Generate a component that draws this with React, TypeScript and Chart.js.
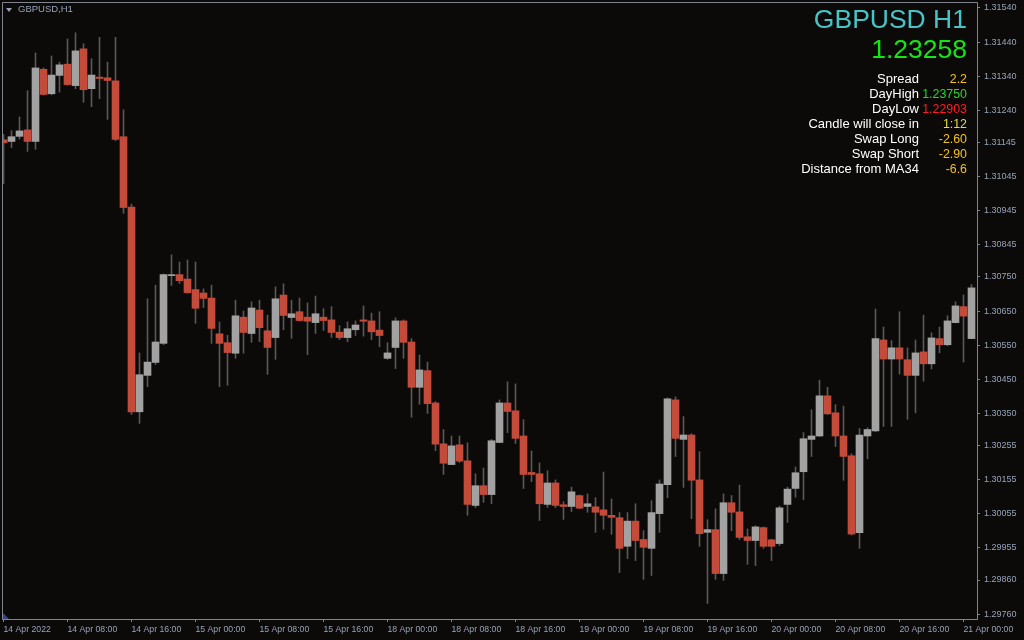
import React, { useEffect, useRef } from "react";
import { Chart, registerables } from "chart.js";

Chart.register(...registerables);

// ---------- data ----------
const timeLabels = [
  "14 Apr 2022", "14 Apr 08:00", "14 Apr 16:00", "15 Apr 00:00", "15 Apr 08:00", "15 Apr 16:00",
  "18 Apr 00:00", "18 Apr 08:00", "18 Apr 16:00", "19 Apr 00:00", "19 Apr 08:00", "19 Apr 16:00",
  "20 Apr 00:00", "20 Apr 08:00", "20 Apr 16:00", "21 Apr 00:00",
];
const timeTickBars = [0, 8, 16, 24, 32, 40, 48, 56, 64, 72, 80, 88, 96, 104, 112, 120];

const priceTicks = [
  1.3154, 1.3144, 1.3134, 1.3124, 1.31145, 1.31045, 1.30945, 1.30845, 1.3075, 1.3065,
  1.3055, 1.3045, 1.3035, 1.30255, 1.30155, 1.30055, 1.29955, 1.2986, 1.2976,
];

const opens = [
  1.31153, 1.31148, 1.31163, 1.31182, 1.31148, 1.3136, 1.31288, 1.31342, 1.31375, 1.31312,
  1.3142, 1.31303, 1.31337, 1.31335, 1.31326, 1.31162, 1.30955, 1.30354, 1.30461, 1.30499,
  1.30555, 1.30754, 1.30757, 1.30744, 1.30713, 1.30703, 1.30688, 1.30583, 1.30557, 1.30526,
  1.30632, 1.30584, 1.30653, 1.30592, 1.30572, 1.30697, 1.30631, 1.30648, 1.30632, 1.30616,
  1.30632, 1.30624, 1.30588, 1.30572, 1.30595, 1.30624, 1.30621, 1.30594, 1.30511, 1.30543,
  1.30621, 1.30559, 1.30426, 1.30475, 1.3038, 1.3026, 1.30199, 1.30257, 1.3021, 1.30079,
  1.30137, 1.30111, 1.30264, 1.3038, 1.30357, 1.30283, 1.30176, 1.30172, 1.30082, 1.30145,
  1.30081, 1.30076, 1.30108, 1.30076, 1.30075, 1.30066, 1.3005, 1.30043, 1.29959, 1.30033,
  1.29979, 1.29953, 1.30055, 1.3014, 1.30389, 1.30273, 1.30286, 1.30154, 1.3, 1.30008,
  1.29879, 1.30087, 1.3006, 1.29987, 1.29976, 1.30014, 1.29978, 1.29967, 1.30082, 1.30129,
  1.30178, 1.30273, 1.30283, 1.30401, 1.30351, 1.30283, 1.30225, 1.29999, 1.30283, 1.30298,
  1.30565, 1.30509, 1.30542, 1.30507, 1.30461, 1.3053, 1.30495, 1.30569, 1.30551, 1.30616,
  1.30663, 1.30569,
];
const highs = [
  1.31169, 1.3118, 1.3122, 1.31297, 1.31408, 1.31364, 1.31399, 1.31381, 1.31449, 1.31467,
  1.31435, 1.31391, 1.31454, 1.31381, 1.31454, 1.31241, 1.30964, 1.30527, 1.30686, 1.30726,
  1.30759, 1.30815, 1.30794, 1.308, 1.30794, 1.30715, 1.30726, 1.30618, 1.30579, 1.30682,
  1.3065, 1.30677, 1.30682, 1.30638, 1.30721, 1.3073, 1.30682, 1.30688, 1.30674, 1.30694,
  1.30657, 1.30663, 1.30607, 1.30618, 1.30621, 1.30665, 1.30644, 1.30648, 1.30557, 1.3063,
  1.30624, 1.30569, 1.30521, 1.305, 1.30384, 1.30302, 1.30283, 1.30283, 1.30263, 1.30172,
  1.30189, 1.30273, 1.30389, 1.30442, 1.30436, 1.30331, 1.30239, 1.30204, 1.30181, 1.30154,
  1.3009, 1.30133, 1.3011, 1.30113, 1.30102, 1.30177, 1.30098, 1.30058, 1.30058, 1.30084,
  1.30005, 1.30093, 1.30154, 1.30395, 1.30398, 1.3034, 1.3029, 1.30237, 1.30037, 1.30069,
  1.30113, 1.30108, 1.30139, 1.3001, 1.30019, 1.30016, 1.2998, 1.30077, 1.30133, 1.30192,
  1.30293, 1.3036, 1.30447, 1.30426, 1.30375, 1.30371, 1.30231, 1.30305, 1.30307, 1.30656,
  1.30603, 1.30563, 1.30648, 1.30542, 1.30565, 1.30638, 1.30586, 1.30603, 1.30636, 1.30677,
  1.30697, 1.30728,
];
const lows = [
  1.31024, 1.3113, 1.31155, 1.31119, 1.31125, 1.31284, 1.31285, 1.31293, 1.31313, 1.31303,
  1.31263, 1.3125, 1.31274, 1.31213, 1.3115, 1.30937, 1.30346, 1.3032, 1.30428, 1.30493,
  1.30551, 1.30725, 1.30731, 1.30702, 1.30614, 1.3066, 1.30555, 1.30428, 1.30432, 1.30511,
  1.30526, 1.30558, 1.3056, 1.30464, 1.30508, 1.30595, 1.3057, 1.3062, 1.30522, 1.30584,
  1.30593, 1.30572, 1.30566, 1.3056, 1.30578, 1.30576, 1.30566, 1.30545, 1.30508, 1.30481,
  1.30511, 1.30338, 1.30376, 1.30349, 1.3024, 1.3017, 1.30199, 1.30205, 1.3005, 1.30073,
  1.30088, 1.30084, 1.30263, 1.30293, 1.30261, 1.30129, 1.30149, 1.30035, 1.30073, 1.30073,
  1.30038, 1.30061, 1.30069, 1.30059, 1.3, 1.30009, 1.29994, 1.29882, 1.29923, 1.29917,
  1.29862, 1.29873, 1.3, 1.30102, 1.30223, 1.30132, 1.3004, 1.29959, 1.29791, 1.29862,
  1.29859, 1.30005, 1.29979, 1.29906, 1.29902, 1.29953, 1.29917, 1.29961, 1.30029, 1.30103,
  1.30096, 1.30223, 1.30281, 1.30346, 1.30252, 1.30153, 1.29992, 1.29953, 1.30216, 1.30296,
  1.30311, 1.30311, 1.30465, 1.30332, 1.30351, 1.30444, 1.3048, 1.30527, 1.30548, 1.30615,
  1.305, 1.30569,
];
const closes = [
  1.31144, 1.31162, 1.31179, 1.31148, 1.31364, 1.31286, 1.31343, 1.31373, 1.31315, 1.31414,
  1.313, 1.31343, 1.31333, 1.31327, 1.31154, 1.30954, 1.30354, 1.30463, 1.305, 1.30559,
  1.30757, 1.30757, 1.30739, 1.30704, 1.30658, 1.30687, 1.30599, 1.30555, 1.30528, 1.30636,
  1.30587, 1.30659, 1.30601, 1.30543, 1.30686, 1.30637, 1.30642, 1.30622, 1.3062, 1.30642,
  1.30622, 1.30587, 1.30572, 1.30598, 1.30609, 1.3062, 1.30589, 1.30578, 1.30527, 1.30621,
  1.30558, 1.30426, 1.30477, 1.30378, 1.30259, 1.30203, 1.30254, 1.30209, 1.30082, 1.30137,
  1.30111, 1.30269, 1.3038, 1.30355, 1.30276, 1.3017, 1.3017, 1.30084, 1.30145, 1.30079,
  1.30076, 1.30119, 1.30071, 1.30084, 1.30059, 1.3005, 1.30044, 1.29953, 1.30033, 1.29976,
  1.29956, 1.30058, 1.30142, 1.30392, 1.30276, 1.30286, 1.30153, 1.29996, 1.30008, 1.29879,
  1.30087, 1.30059, 1.29985, 1.29976, 1.30016, 1.29959, 1.29959, 1.30072, 1.30127, 1.30175,
  1.30275, 1.30283, 1.30401, 1.30348, 1.30283, 1.30223, 1.29995, 1.30286, 1.30302, 1.30569,
  1.30509, 1.30542, 1.30509, 1.30461, 1.30527, 1.30495, 1.30571, 1.30551, 1.30621, 1.30665,
  1.30635, 1.30718,
];

const infoLabels = ["Spread", "DayHigh", "DayLow", "Candle will close in", "Swap Long", "Swap Short", "Distance from MA34"];
const infoValues = ["2.2", "1.23750", "1.22903", "1:12", "-2.60", "-2.90", "-6.6"];

// ---------- styles ----------
const BG = "#0c0a08";
const FRAME = "#80868f";
const LABEL = "#96a4ba";
const BULL = "#a2a2a2";
const BEAR = "#c44a3a";
const WICK = "#585858";
const FONT = '"Liberation Sans", Arial, sans-serif';
const infoColors = ["#f2c21a", "#2ad62a", "#ff1f1f", "#e2df3a", "#f2c21a", "#f2c21a", "#f2c21a"];

type TxtProps = { right?: number; left?: number; baseline: number; size: number; color: string; text: string };
function Txt({ right, left, baseline, size, color, text }: TxtProps) {
  const style: React.CSSProperties = {
    position: "absolute",
    top: baseline - 0.8465 * size,
    fontSize: size,
    lineHeight: size + "px",
    color,
    fontFamily: FONT,
    whiteSpace: "nowrap",
  };
  if (right !== undefined) style.right = 1024 - right;
  if (left !== undefined) style.left = left;
  return <div style={style}>{text}</div>;
}

export default function App() {
  const ref = useRef<HTMLCanvasElement>(null);

  useEffect(() => {
    document.body.style.margin = "0";
    document.body.style.background = BG;
    const canvas = ref.current;
    if (!canvas) return;

    const bodies = opens.map((o, i) => ({ x: i, y: [o, closes[i]] }));
    const wicks = lows.map((l, i) => ({ x: i, y: [l, highs[i]] }));
    const bodyColors = opens.map((o, i) => (closes[i] >= o ? BULL : BEAR));

    const framePlugin = {
      id: "mtFrame",
      beforeDraw(chart: any) {
        const c = chart.ctx;
        c.save();
        c.fillStyle = BG;
        c.fillRect(0, 0, chart.width, chart.height);
        c.restore();
      },
      afterDraw(chart: any) {
        const { left, right, top, bottom } = chart.chartArea;
        const c = chart.ctx;
        c.save();
        c.strokeStyle = FRAME;
        c.lineWidth = 1;
        c.beginPath();
        c.moveTo(left + 0.5, top + 0.5);
        c.lineTo(right + 0.5, top + 0.5);
        c.lineTo(right + 0.5, bottom + 0.5);
        c.lineTo(left + 0.5, bottom + 0.5);
        c.closePath();
        c.stroke();
        c.restore();
      },
    };

    const chart = new Chart(canvas, {
      type: "bar",
      data: {
        datasets: [
          {
            label: "body",
            data: bodies as any,
            backgroundColor: bodyColors,
            barThickness: 7,
            minBarLength: 1,
            grouped: false,
            borderWidth: 0,
            order: 0,
          } as any,
          {
            label: "wick",
            data: wicks as any,
            backgroundColor: WICK,
            barThickness: 1,
            grouped: false,
            borderWidth: 0,
            order: 1,
          } as any,
        ],
      },
      options: {
        animation: false,
        responsive: false,
        maintainAspectRatio: false,
        layout: { padding: { left: 2, top: 2, right: 0, bottom: 0 } },
        plugins: { legend: { display: false }, tooltip: { enabled: false } },
        scales: {
          x: {
            type: "linear",
            position: "bottom",
            min: -0.1875,
            max: 121.6875,
            bounds: "data",
            offset: false,
            afterBuildTicks: (s: any) => {
              s.ticks = timeTickBars.map((v) => ({ value: v }));
            },
            afterFit: (s: any) => {
              s.height = 21;
              s.paddingLeft = 0;
              s.paddingRight = 0;
            },
            ticks: {
              autoSkip: false,
              maxRotation: 0,
              minRotation: 0,
              align: "start",
              padding: 2,
              color: LABEL,
              font: { family: FONT, size: 8.7 },
              callback: (_v: any, i: number) => timeLabels[i],
            },
            grid: { drawOnChartArea: false, drawTicks: true, tickLength: 3, color: FRAME, offset: false },
            border: { display: false },
          } as any,
          y: {
            type: "linear",
            position: "right",
            min: 1.297455,
            max: 1.315576,
            bounds: "data",
            beginAtZero: false,
            afterBuildTicks: (s: any) => {
              s.ticks = priceTicks.map((v) => ({ value: v }));
            },
            afterFit: (s: any) => {
              s.width = 47;
              s.paddingTop = 0;
              s.paddingBottom = 0;
            },
            ticks: {
              autoSkip: false,
              padding: 4,
              color: LABEL,
              font: { family: FONT, size: 9 },
              callback: (v: any) => Number(v).toFixed(5),
            },
            grid: { drawOnChartArea: false, drawTicks: true, tickLength: 3, color: FRAME },
            border: { display: false },
          } as any,
        },
      },
      plugins: [framePlugin as any],
    });
    return () => chart.destroy();
  }, []);

  return (
    <div style={{ position: "relative", width: 1024, height: 640, background: BG, overflow: "hidden" }}>
      <canvas ref={ref} width={1024} height={640} style={{ display: "block", width: 1024, height: 640 }} />
      {/* symbol caption top-left */}
      <div
        style={{
          position: "absolute",
          left: 6,
          top: 8,
          width: 0,
          height: 0,
          borderLeft: "3px solid transparent",
          borderRight: "3px solid transparent",
          borderTop: "4px solid " + LABEL,
        }}
      />
      <Txt left={18} baseline={12.5} size={9.5} color={LABEL} text="GBPUSD,H1" />
      {/* info panel */}
      <Txt right={967} baseline={28.5} size={26.5} color="#46c4c8" text="GBPUSD H1" />
      <Txt right={967} baseline={58.5} size={26.5} color="#14e614" text="1.23258" />
      {infoLabels.map((t, i) => (
        <Txt key={"l" + i} right={919} baseline={83.3 + 15 * i} size={13} color="#ffffff" text={t} />
      ))}
      {infoValues.map((t, i) => (
        <Txt key={"v" + i} right={967} baseline={83.3 + 15 * i} size={12.4} color={infoColors[i]} text={t} />
      ))}
      {/* tiny corner marker bottom-left */}
      <div
        style={{
          position: "absolute",
          left: 3,
          top: 613,
          width: 0,
          height: 0,
          borderBottom: "6px solid #34428c",
          borderRight: "6px solid transparent",
        }}
      />
    </div>
  );
}
